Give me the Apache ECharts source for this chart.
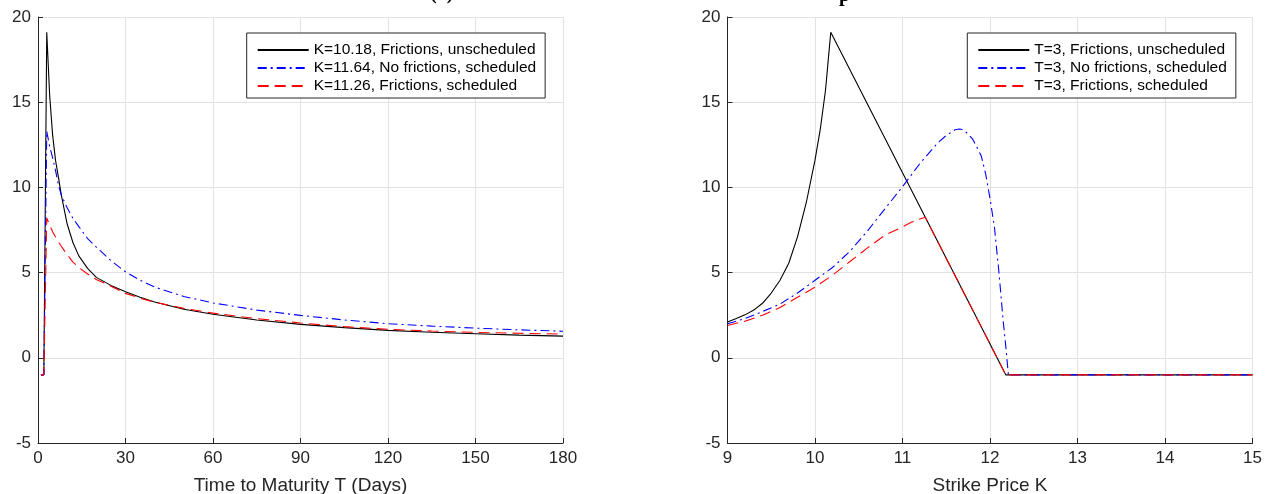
<!DOCTYPE html>
<html><head><meta charset="utf-8">
<script src="https://cdn.jsdelivr.net/npm/echarts@6/dist/echarts.min.js"></script>
<style>html,body{margin:0;padding:0;background:#fff}#c{width:1265px;height:494px}</style>
</head><body><div id="c"></div>
<script>
// ---- Left panel: value vs time to maturity (days) ----
const days   = [1,2,3,4,5,6,7,8,10,12,14,17,20,25,30,35,40,50,60,75,90,105,120,135,150,165,180];
const leftBlack = [-1,-1,19.1,15.4,13.1,11.6,10.6,9.55,7.85,6.75,5.98,5.25,4.72,4.25,3.87,3.55,3.27,2.85,2.56,2.22,1.96,1.77,1.61,1.50,1.41,1.33,1.27];
const leftBlue  = [-1,-1,13.3,12.4,11.75,11.0,10.15,9.55,8.8,8.18,7.7,7.0,6.5,5.7,5.05,4.55,4.15,3.6,3.22,2.8,2.49,2.22,2.0,1.86,1.74,1.64,1.56];
const leftRed   = [-1,-1,8.2,7.8,7.4,7.1,6.8,6.55,6.05,5.62,5.3,4.92,4.6,4.2,3.78,3.5,3.26,2.9,2.62,2.3,2.04,1.83,1.67,1.57,1.49,1.44,1.39];
const leftNames = ['K=10.18, Frictions, unscheduled','K=11.64, No frictions, scheduled','K=11.26, Frictions, scheduled'];

// ---- Right panel: value vs strike price K ----
const kBlack = [9.0,9.1,9.2,9.3,9.4,9.5,9.6,9.7,9.8,9.9,10.0,10.06,10.12,10.18,12.18,15];
const vBlack = [2.1,2.3,2.52,2.8,3.2,3.8,4.55,5.55,7.1,9.1,11.6,13.4,15.7,19.1,-1,-1];
const kBlue  = [9.0,9.2,9.4,9.6,9.8,10.0,10.2,10.4,10.6,10.8,11.0,11.2,11.4,11.5,11.6,11.65,11.7,11.8,11.9,11.95,12.0,12.05,12.1,12.15,12.18,12.21,15];
const vBlue  = [2.0,2.3,2.72,3.15,3.8,4.55,5.3,6.25,7.45,8.75,10.04,11.41,12.6,13.05,13.38,13.43,13.38,12.85,11.85,10.8,9.35,7.7,5.15,2.2,0.7,-1,-1];
const kRed   = [9.0,9.2,9.4,9.6,9.8,10.0,10.2,10.4,10.6,10.8,11.0,11.1,11.2,11.26,12.18,15];
const vRed   = [1.9,2.15,2.5,2.95,3.55,4.15,4.85,5.65,6.45,7.2,7.68,7.95,8.15,8.25,-1,-1];
const rightNames = ['T=3, Frictions, unscheduled','T=3, No frictions, scheduled','T=3, Frictions, scheduled'];

const leftXTitle = 'Time to Maturity T (Days)';
const rightXTitle = 'Strike Price K';
const titleFragments = ['(a)', 'p'];

const zip = (xs, ys) => xs.map((x, i) => [x, ys[i]]);
const FONT = 'Liberation Sans';
const axisBase = {
  axisLine: {show: true, onZero: false, lineStyle: {color: '#262626', width: 1}},
  axisTick: {show: true, inside: true, length: 5, lineStyle: {color: '#262626'}},
  axisLabel: {color: '#262626', fontSize: 17, fontFamily: FONT, margin: 7},
  splitLine: {show: true, lineStyle: {color: '#e2e2e2', width: 1}}
};
const styles = [
  {color: '#000000', type: 'solid'},
  {color: '#0000ff', type: [9, 4, 2, 4]},
  {color: '#ff0000', type: [11, 6]}
];
function mkSeries(name, data, s, idx) {
  return {
    name, type: 'line', data, xAxisIndex: idx, yAxisIndex: idx,
    symbol: 'none', showSymbol: false, smooth: false,
    lineStyle: {color: s.color, width: 1.1, type: s.type},
    itemStyle: {color: s.color}, emphasis: {disabled: true}
  };
}
function mkLegend(names, left) {
  return {
    orient: 'vertical', left: left, top: 33, data: names,
    backgroundColor: '#fff', borderColor: '#262626', borderWidth: 1, borderRadius: 0,
    padding: [9, 9, 4, 10], itemWidth: 51, itemHeight: 14, itemGap: 2,
    selectedMode: false,
    itemStyle: {opacity: 0},
    textStyle: {fontFamily: FONT, fontSize: 15.5, color: '#000', lineHeight: 14}
  };
}

const chart = echarts.init(document.getElementById('c'), null, {renderer: 'canvas'});
chart.setOption({
  animation: false,
  backgroundColor: '#fff',
  grid: [
    {left: 38, top: 17, width: 525, height: 426, containLabel: false, outerBoundsMode: 'none'},
    {left: 727.5, top: 17, width: 525, height: 426, containLabel: false, outerBoundsMode: 'none'}
  ],
  xAxis: [
    Object.assign({}, axisBase, {type: 'value', gridIndex: 0, min: 0, max: 180, interval: 30,
      name: leftXTitle, nameLocation: 'middle', nameGap: 33,
      nameTextStyle: {fontFamily: FONT, fontSize: 19, color: '#262626'}}),
    Object.assign({}, axisBase, {type: 'value', gridIndex: 1, min: 9, max: 15, interval: 1,
      name: rightXTitle, nameLocation: 'middle', nameGap: 33,
      nameTextStyle: {fontFamily: FONT, fontSize: 19, color: '#262626'}})
  ],
  yAxis: [
    Object.assign({}, axisBase, {type: 'value', gridIndex: 0, min: -5, max: 20, interval: 5}),
    Object.assign({}, axisBase, {type: 'value', gridIndex: 1, min: -5, max: 20, interval: 5})
  ],
  legend: [mkLegend(leftNames, 246.7), mkLegend(rightNames, 967.3)],
  graphic: [
    {type: 'text', left: 430, top: -16, style: {text: titleFragments[0], font: 'bold 20px "Liberation Serif"', fill: '#000'}},
    {type: 'text', left: 839, top: -14, style: {text: titleFragments[1], font: 'bold 20px "Liberation Serif"', fill: '#000'}}
  ],
  series: [
    mkSeries(leftNames[0], zip(days, leftBlack), styles[0], 0),
    mkSeries(leftNames[1], zip(days, leftBlue), styles[1], 0),
    mkSeries(leftNames[2], zip(days, leftRed), styles[2], 0),
    mkSeries(rightNames[0], zip(kBlack, vBlack), styles[0], 1),
    mkSeries(rightNames[1], zip(kBlue, vBlue), styles[1], 1),
    mkSeries(rightNames[2], zip(kRed, vRed), styles[2], 1)
  ]
});
</script></body></html>
